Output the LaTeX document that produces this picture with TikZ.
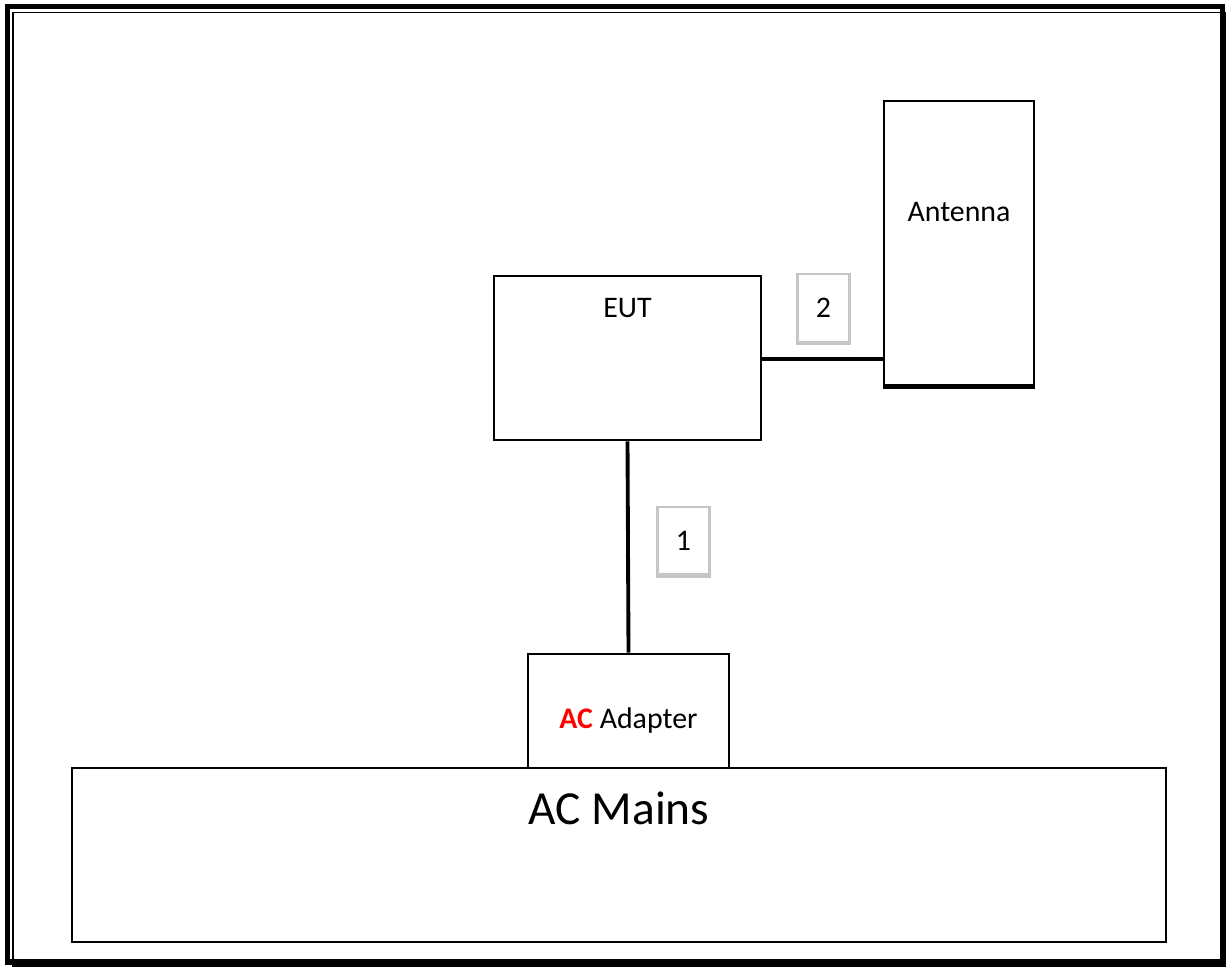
\documentclass[tikz,border=0pt]{standalone}
\usepackage{fontspec}
\setmainfont{Carlito}
\usepackage{xcolor}
\usetikzlibrary{positioning}
\tikzset{
  every picture/.style={line join=miter, line cap=butt},
  box/.style={draw=black, line width=1.5pt, fill=white, inner sep=0pt},
  numbox/.style={draw=gray!45, line width=1.4pt, fill=white, inner sep=0pt, minimum width=1.04cm, minimum height=1.35cm},
  wire/.style={line width=2.2pt},
  txt/.style={font=\fontsize{17}{20}\selectfont, inner sep=0pt},
}
\begin{document}
\begin{tikzpicture}[x=0.02cm,y=-0.02cm]
\useasboundingbox (0,0) rectangle (1226,967);
% frame
\draw[line width=3pt](7.5,6.5)rectangle(1222.5,962);
\draw[line width=0.9pt](13,12.5)rectangle(1225.5,966);
% units
\node[box,minimum width=5.34cm,minimum height=3.28cm](eut)at(627.5,358){};
\node[txt,below=0.46cm of eut.north](euttext){EUT};
\node[box,minimum width=3.0cm,minimum height=5.68cm](antenna)at(959,243){};
\node[txt,below=2.04cm of antenna.north](anttext){Antenna};
\draw[line width=2.6pt](antenna.south west)--(antenna.south east);
\node[box,minimum width=4.02cm,minimum height=2.28cm,txt](adapter)at(628.5,711){};
\node[txt,below=1.1cm of adapter.north](adaptext){\textcolor{red}{\textbf{AC}} Adapter};
\node[box,minimum width=21.88cm,minimum height=3.48cm](mains)at(619,855){};
\node[txt,font=\fontsize{27}{32}\selectfont,below=0.5cm of mains.north](mainstext){AC Mains};
% cables
\draw[wire](eut.south)--(adapter.north);
\draw[wire]([yshift=-0.02cm]eut.east)--([yshift=-0.02cm]eut.east-|antenna.west);
% cable numbers
\node[numbox,txt](lblA)at(683.5,540.5){1};
\node[numbox,txt](lblB)at(823.5,308){2};
\draw[gray!45,line width=2.6pt](lblA.south west)--(lblA.south east);
\draw[gray!45,line width=2.6pt](lblB.south west)--(lblB.south east);
\end{tikzpicture}
\end{document}
